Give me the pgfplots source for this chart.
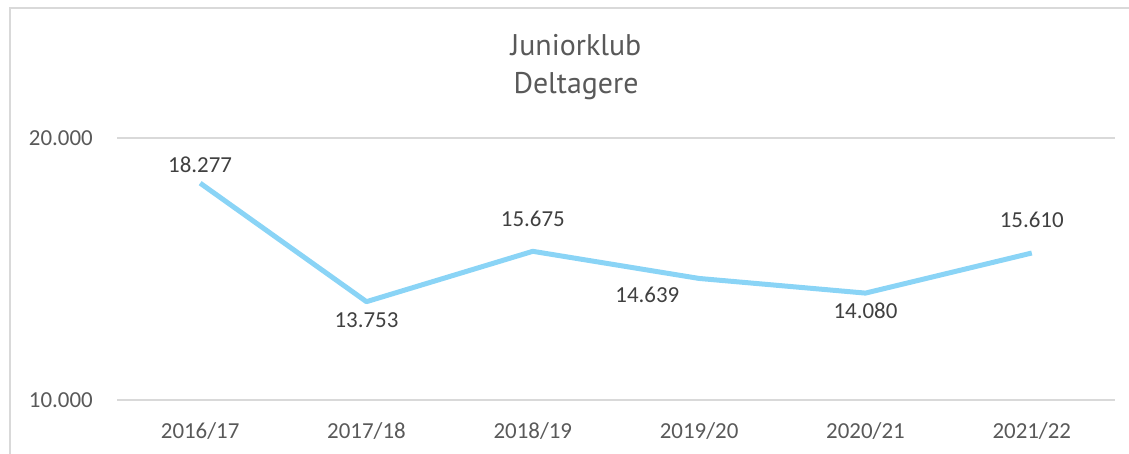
\documentclass[border=0pt]{standalone}
\usepackage{fontspec}
\setmainfont{Carlito}
\newfontfamily\titlefont{PT Sans}
\usepackage{pgfplots}
\pgfplotsset{compat=1.18}
\usepackage{pgfplotstable}
\definecolor{linecol}{RGB}{138,212,246}
\definecolor{gridcol}{RGB}{217,217,217}
\definecolor{tickcol}{RGB}{89,89,89}
\definecolor{labcol}{RGB}{64,64,64}

\pgfplotstableread{
x y dx dy lab
0 18277 0 18 18.277
1 13753 0 -19 13.753
2 15675 0 33 15.675
3 14639 -52 -16.5 14.639
4 14080 0 -18 14.080
5 15610 0 33 15.610
}\datatable

\begin{document}
\begin{tikzpicture}
\useasboundingbox (0,0) rectangle (1129bp,454bp);
\draw[gridcol, line width=1.5bp] (10bp,-20bp) -- (10bp,446bp) -- (1150bp,446bp);
\node[anchor=base, font=\titlefont\fontsize{30}{36}\selectfont, text=tickcol, inner sep=0pt] at (576bp,398bp) {Juniorklub};
\node[anchor=base, font=\titlefont\fontsize{30}{36}\selectfont, text=tickcol, inner sep=0pt] at (576bp,360bp) {Deltagere};
\begin{axis}[
  at={(117bp,54bp)}, anchor=south west,
  scale only axis, width=998bp, height=262bp,
  xmin=-0.5, xmax=5.5, ymin=10000, ymax=20000,
  xtick={0,1,2,3,4,5},
  xticklabels={2016/17,2017/18,2018/19,2019/20,2020/21,2021/22},
  ytick={10000,20000},
  yticklabels={10.000,20.000},
  scaled y ticks=false,
  ymajorgrids, grid style={gridcol, line width=1.5bp},
  axis line style={draw=none},
  major tick length=0pt,
  tick style={draw=none},
  tick label style={font=\fontsize{23}{27}\selectfont, text=tickcol, inner sep=0pt},
  yticklabel shift=24bp,
  xticklabel shift=22bp,
  clip=false,
  point meta=explicit symbolic,
  visualization depends on={\thisrow{dx} \as \dx},
  visualization depends on={\thisrow{dy} \as \dy},
  nodes near coords,
  nodes near coords style={anchor=center, xshift=\dx pt, yshift=\dy pt, font=\fontsize{23}{27}\selectfont, text=labcol, inner sep=0pt},
]
\addplot[linecol, line width=5bp, line join=round, mark=none] table[x=x, y=y, meta=lab] {\datatable};
\end{axis}
\end{tikzpicture}
\end{document}
